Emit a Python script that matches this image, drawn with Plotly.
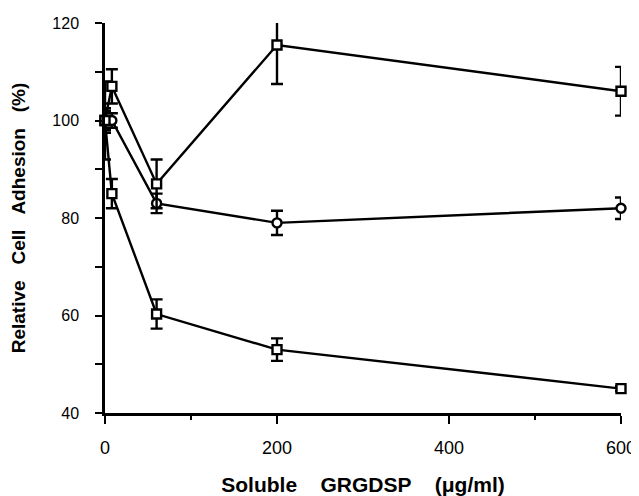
import plotly.graph_objects as go

conc = [0, 8, 60, 200, 600]

top_vals = [100, 107, 87, 115.5, 106]
top_err = [2, 3.5, 5, 8, 5]

mid_vals = [100, 100, 83, 79, 82]
mid_err = [2.5, 1.5, 2, 2.5, 2.2]

bot_vals = [100, 85, 60.3, 53, 45]
bot_err = [8, 3, 3, 2.3, 0.5]

x_ticks = [0, 200, 400, 600]
x_minor = [100, 500]
y_ticks = [40, 60, 80, 100, 120]
y_minor = [50, 70, 90, 110]
y_range = [40, 120]

y_all = sorted(y_ticks + y_minor)
y_text = [str(v) if v in y_ticks else "" for v in y_all]

fig = go.Figure()

def add(vals, errs, symbol):
    fig.add_trace(go.Scatter(
        x=conc, y=vals, mode="lines+markers",
        line=dict(color="black", width=2.4),
        marker=dict(symbol=symbol, size=9, color="white",
                    line=dict(color="black", width=2.4)),
        error_y=dict(type="data", array=errs, visible=True,
                     color="black", thickness=2.4, width=6),
        cliponaxis=False, showlegend=False,
    ))

add(bot_vals, bot_err, "square")
add(mid_vals, mid_err, "circle")
add(top_vals, top_err, "square")

fam = "Liberation Sans, Arial, sans-serif"
xtick_font = dict(family=fam, size=18, color="black")
ytick_font = dict(family=fam, size=16, color="black")
xtitle_font = dict(family=fam, size=21, color="black", weight="bold")
ytitle_font = dict(family=fam, size=19, color="black", weight="bold")
gap = "\u00a0\u00a0\u00a0 "

# page body has an 8px default margin; figure is offset by 8px in the window
fig.update_layout(
    width=631, height=488,
    margin=dict(l=97, r=18, t=15, b=83),
    paper_bgcolor="white", plot_bgcolor="white",
    font=xtick_font,
    xaxis=dict(
        range=[0, 600], tickvals=x_ticks, ticks="outside", ticklen=8, tickwidth=2,
        tickcolor="black", showline=True, linecolor="black", linewidth=2.5,
        showgrid=False, zeroline=False, tickfont=xtick_font, ticklabelstandoff=9,
        automargin=False, ticklabeloverflow="allow",
        minor=dict(tickvals=x_minor, ticks="outside", ticklen=4,
                   tickwidth=2, tickcolor="black", showgrid=False),
        title=dict(text="Soluble" + gap + "GRGDSP" + gap + "(μg/ml)",
                   font=xtitle_font, standoff=23),
    ),
    yaxis=dict(
        range=y_range, tickmode="array", tickvals=y_all, ticktext=y_text,
        ticks="outside", ticklen=7, tickwidth=2,
        tickcolor="black", showline=True, linecolor="black", linewidth=2.5,
        showgrid=False, zeroline=False, tickfont=ytick_font,
        ticklabelstandoff=13, automargin=False, ticklabeloverflow="allow",
        title=dict(text="Relative\u00a0\u00a0 Cell\u00a0\u00a0 Adhesion\u00a0\u00a0 (%)",
                   font=ytitle_font, standoff=28),
    ),
)

fig.write_html("out.html")
